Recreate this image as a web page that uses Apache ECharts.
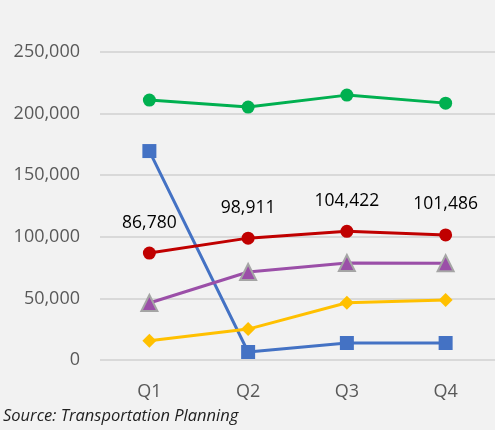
<!DOCTYPE html>
<html>
<head>
<meta charset="utf-8">
<script src="https://cdn.jsdelivr.net/npm/echarts@6/dist/echarts.min.js"></script>
<style>
  html, body { margin: 0; padding: 0; background: #f2f2f2; }
  #chart { width: 495px; height: 430px; }
</style>
</head>
<body>
<div id="chart"></div>
<script>
var quarters = ['Q1', 'Q2', 'Q3', 'Q4'];
var greenVals = [211000, 205300, 215000, 208500];
var blueVals = [169600, 6500, 13800, 13800];
var redVals = [86780, 98911, 104422, 101486];
var purpleVals = [46300, 71400, 78700, 78500];
var yellowVals = [15700, 25100, 46500, 48700];
var sourceText = 'Source: Transportation Planning';

var font = '"Open Sans", "Noto Sans", sans-serif';
var chart = echarts.init(document.getElementById('chart'));

function line(name, data, color, symbol, size, extra) {
  var s = {
    name: name,
    type: 'line',
    data: data,
    symbol: symbol,
    symbolSize: size,
    lineStyle: { color: color, width: 3 },
    itemStyle: { color: color },
    animation: false
  };
  return Object.assign(s, extra || {});
}

chart.setOption({
  backgroundColor: '#f2f2f2',
  grid: { left: 100, right: -5, top: 52, bottom: 70 },
  graphic: [{
    type: 'text', left: 3, top: 408,
    style: { text: sourceText, fontFamily: font, fontStyle: 'italic', fontSize: 16.5, fill: '#222' }
  }],
  xAxis: {
    type: 'category',
    data: quarters,
    boundaryGap: true,
    axisLine: { show: false },
    axisTick: { show: false },
    axisLabel: { color: '#595959', fontSize: 18, fontFamily: font, margin: 23 }
  },
  yAxis: {
    type: 'value',
    min: 0, max: 250000, interval: 50000,
    axisLine: { show: false },
    axisTick: { show: false },
    splitLine: { lineStyle: { color: '#d9d9d9', width: 2 } },
    axisLabel: {
      color: '#595959', fontSize: 18, fontFamily: font, margin: 20,
      formatter: function (v) { return v.toLocaleString('en-US'); }
    }
  },
  series: [
    line('Blue', blueVals, '#4472c4', 'rect', 14),
    line('Red', redVals, '#c00000', 'circle', 13, {
      label: {
        show: true, position: 'top', distance: 15, color: '#000',
        fontSize: 17.5, fontFamily: font,
        formatter: function (p) { return p.value.toLocaleString('en-US'); }
      }
    }),
    line('Purple', purpleVals, '#9b4fa8', 'triangle', 16, {
      itemStyle: { color: '#9b4fa8', borderColor: '#a5a5a5', borderWidth: 2 }
    }),
    line('Yellow', yellowVals, '#ffc000', 'diamond', 14),
    line('Green', greenVals, '#00b050', 'circle', 13)
  ]
});
</script>
</body>
</html>
